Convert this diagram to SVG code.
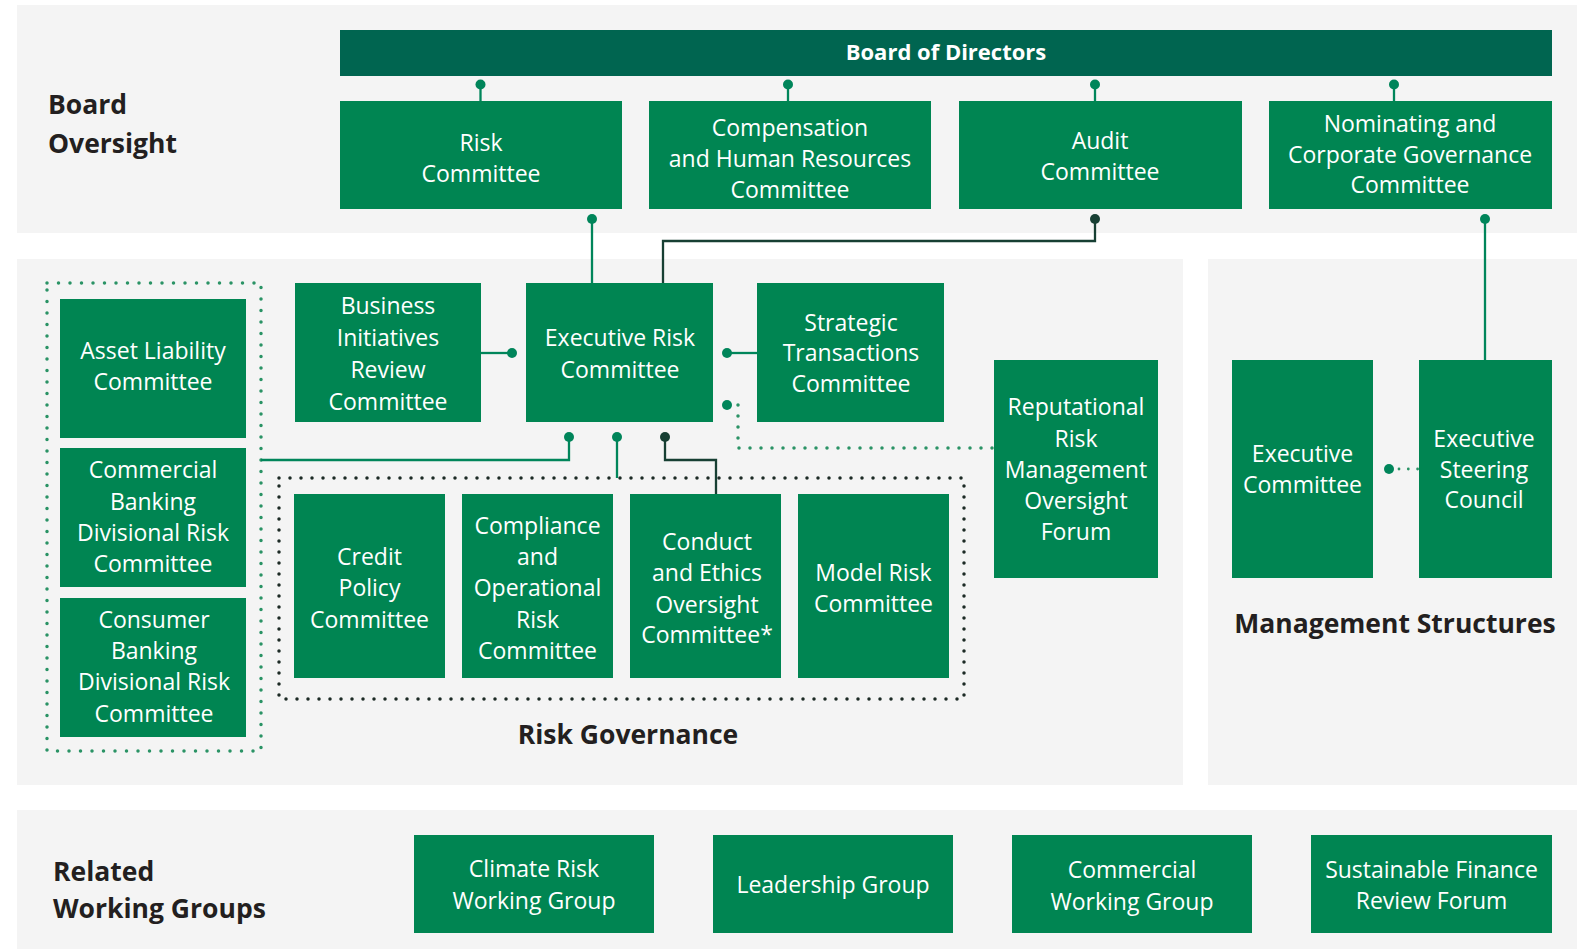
<svg xmlns="http://www.w3.org/2000/svg" width="1585" height="950" viewBox="0 0 1585 950">
<style>
.panel{fill:#f4f4f4}
.box{fill:#008552}
.bar{fill:#006550}
.lbl{font-family:"Open Sans","Noto Sans","Liberation Sans",sans-serif;font-size:23px;fill:#ffffff;text-anchor:middle}
.hdr{font-family:"Open Sans","Noto Sans","Liberation Sans",sans-serif;font-weight:700;font-size:26.5px;fill:#231f20}
.ln{stroke:#00855a;stroke-width:2.3;fill:none}
.dk{stroke:#173f33;stroke-width:2.3;fill:none}
.dot{fill:#00855a}
.dotd{fill:#173f33}
.dg{stroke:#2a9365;stroke-width:3.5;stroke-linecap:round;stroke-dasharray:0 11.5;fill:none}
.dg2{stroke:#2a9365;stroke-width:3.5;stroke-linecap:round;stroke-dasharray:0 11;fill:none}
.db{stroke:#1c2a25;stroke-width:3.5;stroke-linecap:round;stroke-dasharray:0 11;fill:none}
</style>
<rect width="1585" height="950" fill="#ffffff"/>
<g id="panels">
<rect class="panel" x="17" y="5" width="1560" height="228"/>
<rect class="panel" x="17" y="259" width="1166" height="526"/>
<rect class="panel" x="1208" y="259" width="369" height="526"/>
<rect class="panel" x="17" y="810" width="1560" height="139"/>
</g>
<g id="headers">
<text class="hdr" x="48" y="114">Board</text>
<text class="hdr" x="48" y="153">Oversight</text>
<text class="hdr" x="628" y="744" text-anchor="middle">Risk Governance</text>
<text class="hdr" x="1395" y="633" text-anchor="middle">Management Structures</text>
<text class="hdr" x="53" y="881">Related</text>
<text class="hdr" x="53" y="918">Working Groups</text>
</g>
<g id="groups">
<rect class="dg" x="47" y="283" width="214" height="468"/>
<rect class="db" x="279" y="478" width="685" height="221"/>
</g>
<g id="connectors">
<line class="ln" x1="480.5" y1="84" x2="480.5" y2="101"/>
<circle class="dot" cx="480.5" cy="84.5" r="5"/>
<line class="ln" x1="788" y1="84" x2="788" y2="101"/>
<circle class="dot" cx="788" cy="84.5" r="5"/>
<line class="ln" x1="1095" y1="84" x2="1095" y2="101"/>
<circle class="dot" cx="1095" cy="84.5" r="5"/>
<line class="ln" x1="1394" y1="84" x2="1394" y2="101"/>
<circle class="dot" cx="1394" cy="84.5" r="5"/>
<line class="ln" x1="592" y1="219" x2="592" y2="283"/>
<circle class="dot" cx="592" cy="219" r="5"/>
<polyline class="dk" points="1095,219 1095,241 663,241 663,283"/>
<circle class="dotd" cx="1095" cy="219" r="5"/>
<line class="ln" x1="1485" y1="219" x2="1485" y2="360"/>
<circle class="dot" cx="1485" cy="219" r="5"/>
<line class="ln" x1="481" y1="353" x2="512" y2="353"/>
<circle class="dot" cx="512" cy="353" r="5"/>
<line class="ln" x1="727" y1="353" x2="757" y2="353"/>
<circle class="dot" cx="727" cy="353" r="5"/>
<polyline class="dg2" points="738,405 738,448 994,448"/>
<circle class="dot" cx="727" cy="405" r="5"/>
<polyline class="ln" points="569,437 569,460 261,460"/>
<circle class="dot" cx="569" cy="437" r="5"/>
<line class="ln" x1="617" y1="437" x2="617" y2="478"/>
<circle class="dot" cx="617" cy="437" r="5"/>
<polyline class="dk" points="665,437 665,460 716,460 716,494"/>
<circle class="dotd" cx="665" cy="437" r="5"/>
<line x1="1399" y1="469" x2="1418" y2="469" style="stroke:#2a9365;stroke-width:2.8;stroke-linecap:round;stroke-dasharray:0 9.3;fill:none"/>
<circle class="dot" cx="1389" cy="469" r="5"/>
</g>
<g id="board">
<rect class="bar" x="340" y="30" width="1212" height="46"/>
<text class="lbl" x="946" y="60" style="font-weight:700;font-size:22px">Board of Directors</text>
</g>
<g id="risk-committee">
<rect class="box" x="340" y="101" width="282" height="108"/>
<text class="lbl" x="481"><tspan x="481" y="150.5">Risk</tspan><tspan x="481" y="182">Committee</tspan></text>
</g>
<g id="compensation">
<rect class="box" x="649" y="101" width="282" height="108"/>
<text class="lbl" x="790"><tspan x="790" y="135.5">Compensation</tspan><tspan x="790" y="167">and Human Resources</tspan><tspan x="790" y="198">Committee</tspan></text>
</g>
<g id="audit">
<rect class="box" x="959" y="101" width="283" height="108"/>
<text class="lbl" x="1100"><tspan x="1100" y="148.5">Audit</tspan><tspan x="1100" y="180">Committee</tspan></text>
</g>
<g id="nominating">
<rect class="box" x="1269" y="101" width="283" height="108"/>
<text class="lbl" x="1410"><tspan x="1410" y="131.5">Nominating and</tspan><tspan x="1410" y="163">Corporate Governance</tspan><tspan x="1410" y="193">Committee</tspan></text>
</g>
<g id="asset-liability">
<rect class="box" x="60" y="299" width="186" height="139"/>
<text class="lbl" x="153"><tspan x="153" y="359">Asset Liability</tspan><tspan x="153" y="390">Committee</tspan></text>
</g>
<g id="commercial-banking">
<rect class="box" x="60" y="448" width="186" height="139"/>
<text class="lbl" x="153"><tspan x="153" y="478">Commercial</tspan><tspan x="153" y="509.5">Banking</tspan><tspan x="153" y="540.7">Divisional Risk</tspan><tspan x="153" y="572">Committee</tspan></text>
</g>
<g id="consumer-banking">
<rect class="box" x="60" y="598" width="186" height="139"/>
<text class="lbl" x="154"><tspan x="154" y="627.6">Consumer</tspan><tspan x="154" y="659">Banking</tspan><tspan x="154" y="690.3">Divisional Risk</tspan><tspan x="154" y="721.6">Committee</tspan></text>
</g>
<g id="business-initiatives">
<rect class="box" x="295" y="283" width="186" height="139"/>
<text class="lbl" x="388"><tspan x="388" y="314">Business</tspan><tspan x="388" y="345.6">Initiatives</tspan><tspan x="388" y="378">Review</tspan><tspan x="388" y="409.5">Committee</tspan></text>
</g>
<g id="executive-risk">
<rect class="box" x="526" y="283" width="187" height="139"/>
<text class="lbl" x="620"><tspan x="620" y="345.6">Executive Risk</tspan><tspan x="620" y="378">Committee</tspan></text>
</g>
<g id="strategic-transactions">
<rect class="box" x="757" y="283" width="187" height="139"/>
<text class="lbl" x="851"><tspan x="851" y="330.5">Strategic</tspan><tspan x="851" y="361">Transactions</tspan><tspan x="851" y="392">Committee</tspan></text>
</g>
<g id="reputational-risk">
<rect class="box" x="994" y="360" width="164" height="218"/>
<text class="lbl" x="1076"><tspan x="1076" y="415.4">Reputational</tspan><tspan x="1076" y="446.7">Risk</tspan><tspan x="1076" y="478">Management</tspan><tspan x="1076" y="509.4">Oversight</tspan><tspan x="1076" y="539.7">Forum</tspan></text>
</g>
<g id="credit-policy">
<rect class="box" x="294" y="494" width="151" height="184"/>
<text class="lbl" x="369.5"><tspan x="369.5" y="565">Credit</tspan><tspan x="369.5" y="596.3">Policy</tspan><tspan x="369.5" y="627.6">Committee</tspan></text>
</g>
<g id="compliance">
<rect class="box" x="462" y="494" width="151" height="184"/>
<text class="lbl" x="537.5"><tspan x="537.5" y="533.6">Compliance</tspan><tspan x="537.5" y="565">and</tspan><tspan x="537.5" y="596.3">Operational</tspan><tspan x="537.5" y="627.6">Risk</tspan><tspan x="537.5" y="659">Committee</tspan></text>
</g>
<g id="conduct-ethics">
<rect class="box" x="630" y="494" width="151" height="184"/>
<text class="lbl" x="707"><tspan x="707" y="549.8">Conduct</tspan><tspan x="707" y="581">and Ethics</tspan><tspan x="707" y="612.5">Oversight</tspan><tspan x="707" y="642.8">Committee*</tspan></text>
</g>
<g id="model-risk">
<rect class="box" x="798" y="494" width="151" height="184"/>
<text class="lbl" x="873.5"><tspan x="873.5" y="581">Model Risk</tspan><tspan x="873.5" y="611.5">Committee</tspan></text>
</g>
<g id="executive-committee">
<rect class="box" x="1232" y="360" width="141" height="218"/>
<text class="lbl" x="1302.5"><tspan x="1302.5" y="462">Executive</tspan><tspan x="1302.5" y="493">Committee</tspan></text>
</g>
<g id="executive-steering">
<rect class="box" x="1419" y="360" width="133" height="218"/>
<text class="lbl" x="1484"><tspan x="1484" y="446.7">Executive</tspan><tspan x="1484" y="478">Steering</tspan><tspan x="1484" y="508.3">Council</tspan></text>
</g>
<g id="climate-risk">
<rect class="box" x="414" y="835" width="240" height="98"/>
<text class="lbl" x="534"><tspan x="534" y="877.3">Climate Risk</tspan><tspan x="534" y="908.6">Working Group</tspan></text>
</g>
<g id="leadership">
<rect class="box" x="713" y="835" width="240" height="98"/>
<text class="lbl" x="833" y="892.5">Leadership Group</text>
</g>
<g id="commercial-working">
<rect class="box" x="1012" y="835" width="240" height="98"/>
<text class="lbl" x="1132"><tspan x="1132" y="878.3">Commercial</tspan><tspan x="1132" y="909.7">Working Group</tspan></text>
</g>
<g id="sustainable-finance">
<rect class="box" x="1311" y="835" width="241" height="98"/>
<text class="lbl" x="1431.5"><tspan x="1431.5" y="878">Sustainable Finance</tspan><tspan x="1431.5" y="909">Review Forum</tspan></text>
</g>
</svg>
